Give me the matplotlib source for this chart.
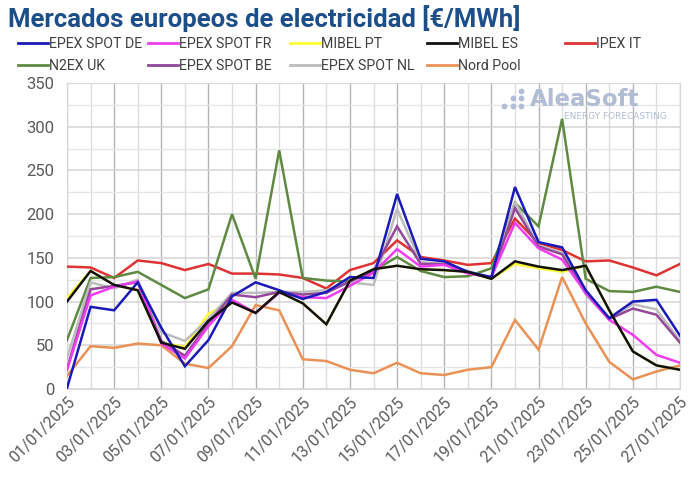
import matplotlib.pyplot as plt
import matplotlib.dates as mdates
from matplotlib.ticker import MultipleLocator
from matplotlib.lines import Line2D
import pandas as pd

dates = pd.date_range('2025-01-01', '2025-01-27', freq='D')

epex_de = [1, 94, 90, 122, 70, 26, 56, 106, 122, 113, 103, 111, 128, 127, 223, 149, 146, 134, 128, 231, 168, 162, 113, 81, 100, 102, 61]
epex_fr = [22, 107, 117, 123, 52, 35, 72, 102, 87, 110, 105, 104, 118, 133, 160, 140, 142, 132, 128, 190, 161, 148, 110, 79, 62, 39, 30]
mibel_pt = [104, 135, 119, 113, 53, 48, 86, 100, 87, 111, 98, 74, 124, 137, 141, 137, 136, 134, 126, 143, 138, 134, 141, 90, 43, 27, 22]
mibel_es = [100, 135, 119, 113, 53, 46, 78, 99, 87, 111, 98, 74, 124, 137, 141, 137, 136, 134, 126, 146, 140, 136, 141, 90, 43, 27, 22]
ipex_it = [140, 139, 127, 147, 144, 136, 143, 132, 132, 131, 127, 115, 136, 144, 170, 151, 147, 142, 144, 195, 167, 159, 146, 147, 139, 130, 143]
n2ex_uk = [56, 127, 128, 134, 119, 104, 114, 200, 126, 273, 127, 124, 123, 135, 151, 135, 128, 129, 138, 213, 186, 309, 126, 112, 111, 117, 111]
epex_be = [23, 114, 118, 122, 55, 38, 75, 108, 105, 111, 108, 110, 123, 135, 186, 143, 143, 133, 127, 207, 163, 154, 110, 80, 92, 85, 53]
epex_nl = [35, 122, 115, 125, 65, 55, 80, 110, 110, 111, 111, 113, 122, 119, 206, 145, 143, 135, 127, 214, 164, 156, 108, 80, 97, 91, 55]
nord_pool = [15, 49, 47, 52, 50, 29, 24, 49, 96, 90, 34, 32, 22, 18, 30, 18, 16, 22, 25, 79, 45, 128, 75, 31, 11, 20, 27]

series = [
    ('EPEX SPOT DE', epex_de, '#1a1ab8'),
    ('EPEX SPOT FR', epex_fr, '#f03cf0'),
    ('MIBEL PT', mibel_pt, '#ffff33'),
    ('MIBEL ES', mibel_es, '#111111'),
    ('IPEX IT', ipex_it, '#e03232'),
    ('N2EX UK', n2ex_uk, '#5e8a42'),
    ('EPEX SPOT BE', epex_be, '#93489a'),
    ('EPEX SPOT NL', epex_nl, '#bdbdbd'),
    ('Nord Pool', nord_pool, '#ea9256'),
]

# drawing order so the pack looks like the reference
order = ['Nord Pool', 'IPEX IT', 'N2EX UK', 'MIBEL PT', 'EPEX SPOT NL', 'EPEX SPOT BE',
         'EPEX SPOT FR', 'EPEX SPOT DE', 'MIBEL ES']

fnt = ['Roboto', 'DejaVu Sans']

fig = plt.figure(figsize=(6.96, 4.84), dpi=100)
ax = fig.add_axes([67 / 696, 1 - 389 / 484, 613 / 696, 306 / 484])

lookup = {n: (v, c) for n, v, c in series}
for z, name in enumerate(order):
    vals, col = lookup[name]
    ax.plot(dates, vals, color=col, lw=1.8, zorder=3 + z, solid_joinstyle='miter')

ax.set_ylim(0, 350)
ax.set_xlim(dates[0], dates[-1])
ax.yaxis.set_major_locator(MultipleLocator(50))
ax.yaxis.set_minor_locator(MultipleLocator(25))
ax.xaxis.set_major_locator(mdates.DayLocator(bymonthday=range(1, 32, 2)))
ax.xaxis.set_minor_locator(mdates.DayLocator())
ax.xaxis.set_major_formatter(mdates.DateFormatter('%d/%m/%Y'))

ax.grid(which='major', axis='y', color='#d4d4d4', lw=1.1)
ax.grid(which='minor', axis='y', color='#e6e6e6', lw=1.0)
ax.grid(which='major', axis='x', color='#b4b4b4', lw=1.0)
ax.grid(which='minor', axis='x', color='#dddddd', lw=1.0)
ax.set_axisbelow(True)

for s in ax.spines.values():
    s.set_color('#d9d9d9')
ax.tick_params(which='both', length=0)
ax.tick_params(axis='y', labelsize=12, labelcolor='#5a5a5a', pad=9)
ax.tick_params(axis='x', labelsize=11.5, labelcolor='#5a5a5a', pad=4)
for t in ax.get_yticklabels() + ax.get_xticklabels():
    t.set_family(fnt)
plt.setp(ax.get_xticklabels(), rotation=45, ha='right', rotation_mode='anchor')

# watermark
wm = '#b0bdd4'
ax.text(0.755, 0.947, 'AleaSoft', transform=ax.transAxes, fontsize=16.5, fontweight='bold',
        color=wm, ha='left', va='center', zorder=1)
ax.text(0.978, 0.892, 'ENERGY FORECASTING', transform=ax.transAxes, fontsize=6.5,
        color=wm, ha='right', va='center', zorder=1)
dx = [0.713, 0.727, 0.727, 0.741, 0.741, 0.741]
dy = [0.925, 0.925, 0.95, 0.925, 0.95, 0.975]
ax.scatter(dx, dy, s=10, color=wm, transform=ax.transAxes, zorder=1, clip_on=False)

fig.text(8 / 696, 1 - 19 / 484, 'Mercados europeos de electricidad [€/MWh]', fontsize=18.5,
         fontweight='bold', color='#1c4f8a', ha='left', va='center', family='Roboto')

# legend: one small legend per column, rows filled left to right
col_x = [15, 145, 287, 424, 562]
for i, x0 in enumerate(col_x):
    items = [series[i]] + ([series[i + 5]] if i + 5 < len(series) else [])
    handles = [Line2D([], [], color=c, lw=2) for n, v, c in items]
    labels = [n for n, v, c in items]
    leg = fig.legend(handles, labels, loc='upper left', bbox_to_anchor=(x0 / 696, 1 - 34 / 484),
                     frameon=False, handlelength=2.1, handletextpad=0.1,
                     labelspacing=0.6, borderaxespad=0, borderpad=0.2,
                     prop={'family': fnt, 'size': 10.2})
    for t in leg.get_texts():
        t.set_color('#404040')

fig.savefig('out.png', dpi=100)
